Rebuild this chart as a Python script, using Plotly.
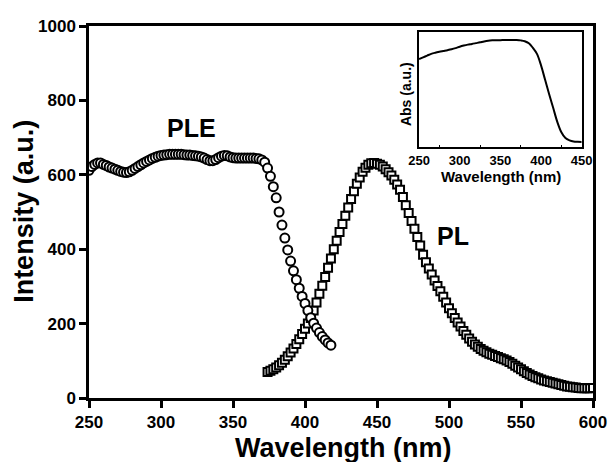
import plotly.graph_objects as go

# PLE (circles), 250-418 nm step 2
ple_x = list(range(250, 420, 2))
ple_y = [612, 622, 628, 632, 632, 628, 625, 621, 618, 615,
         612, 609, 607, 606, 608, 612, 617, 622, 627, 632,
         636, 640, 644, 647, 650, 652, 653, 654, 655, 655,
         655, 655, 655, 654, 653, 653, 652, 651, 650, 648,
         645, 641, 638, 638, 641, 646, 650, 652, 651, 648,
         646, 645, 645, 645, 645, 645, 645, 645, 644, 643,
         640, 634, 618, 596, 568, 538, 500, 465, 430, 398,
         368, 342, 318, 295, 273, 254, 235, 216, 201, 188,
         176, 165, 156, 148, 142]

# PL (squares), 374-600 nm step 2
pl_x = list(range(374, 602, 2))
pl_y = [70, 73, 77, 82, 88, 95, 103, 112, 122, 133,
        145, 158, 172, 186, 200, 215, 235, 257, 280, 302,
        325, 350, 375, 400, 423, 446, 468, 490, 512, 535,
        556, 576, 593, 608, 619, 627, 631, 632, 630, 627,
        622, 615, 607, 598, 587, 574, 560, 540, 518, 497,
        476, 455, 433, 410, 385, 365, 348, 332, 316, 301,
        287, 272, 257, 241, 228, 215, 203, 192, 180, 170,
        160, 151, 144, 138, 132, 127, 123, 119, 116, 113,
        110, 107, 104, 101, 97, 92, 87, 82, 77, 72,
        67, 63, 59, 56, 53, 50, 47, 45, 43, 41,
        39, 37, 35, 33, 31, 30, 29, 28, 27, 26,
        26, 26, 26, 27]

# Inset absorption, 250-450 nm step 5
abs_x = list(range(250, 455, 5))
abs_y = [0.765, 0.78, 0.795, 0.81, 0.82, 0.828, 0.835, 0.842, 0.85, 0.86,
         0.872, 0.882, 0.89, 0.896, 0.903, 0.91, 0.918, 0.924, 0.927, 0.928,
         0.929, 0.93, 0.931, 0.931, 0.93, 0.927, 0.92, 0.902, 0.862, 0.81,
         0.71, 0.585, 0.46, 0.34, 0.22, 0.13, 0.08, 0.06, 0.05, 0.047,
         0.046]

main_xticks = [250, 300, 350, 400, 450, 500, 550, 600]
main_yticks = [0, 200, 400, 600, 800, 1000]
inset_xticks = [250, 300, 350, 400, 450]

FONT = "Liberation Sans, Arial, sans-serif"

fig = go.Figure()
fig.add_trace(go.Scatter(
    x=pl_x, y=pl_y, mode="markers",
    marker=dict(symbol="square", size=8, color="white",
                line=dict(color="black", width=2)),
    showlegend=False))
fig.add_trace(go.Scatter(
    x=ple_x, y=ple_y, mode="markers",
    marker=dict(symbol="circle", size=9, color="white",
                line=dict(color="black", width=2)),
    showlegend=False))
fig.add_trace(go.Scatter(
    x=abs_x, y=abs_y, mode="lines", xaxis="x2", yaxis="y2",
    line=dict(color="black", width=2, shape="spline"),
    showlegend=False))

def txt(s, x, y, size, xref="paper", yref="paper", angle=0):
    fig.add_annotation(x=x, y=y, xref=xref, yref=yref, text=f"<b>{s}</b>",
                       showarrow=False, textangle=angle,
                       xanchor="center", yanchor="middle",
                       font=dict(family=FONT, size=size, color="black"))

txt("PLE", 321, 725, 25, "x", "y")
txt("PL", 503, 436, 25, "x", "y")
txt("Wavelength (nm)", 0.504, -0.134, 27)
txt("Intensity (a.u.)", -0.129, 0.503, 27, angle=-90)
txt("Wavelength (nm)", 0.817, 0.595, 15)
txt("Abs (a.u.)", 0.629, 0.817, 14, angle=-90)

fig.update_layout(
    width=610, height=462,
    margin=dict(l=89, r=17, t=26, b=64),
    paper_bgcolor="white", plot_bgcolor="white",
    font=dict(family=FONT, color="black"),
    xaxis=dict(range=[250, 600], tickvals=main_xticks, automargin=False,
               ticktext=[f"<b>{v}</b>" for v in main_xticks],
               showgrid=False, zeroline=False,
               showline=True, linecolor="black", linewidth=2.5, mirror=True,
               ticks="outside", ticklen=7, tickwidth=2.5, tickcolor="black",
               tickfont=dict(size=17, family=FONT)),
    yaxis=dict(range=[0, 1000], tickvals=main_yticks, automargin=False,
               ticktext=[f"<b>{v}</b>" for v in main_yticks],
               showgrid=False, zeroline=False,
               showline=True, linecolor="black", linewidth=2.5, mirror=True,
               ticks="outside", ticklen=7, tickwidth=2.5, tickcolor="black",
               tickfont=dict(size=17, family=FONT)),
    xaxis2=dict(domain=[0.6548, 0.9776], anchor="y2", range=[250, 450],
                tickvals=inset_xticks, automargin=False,
                ticktext=[f"<b>{v}</b>" for v in inset_xticks],
                showgrid=False, zeroline=False,
                showline=True, linecolor="black", linewidth=1.5, mirror=True,
                ticks="", tickfont=dict(size=13, family=FONT),
                minor=dict(ticks="inside", tick0=275, dtick=50, ticklen=3,
                           tickwidth=1, tickcolor="black")),
    yaxis2=dict(domain=[0.674, 0.984], anchor="x2", range=[0, 1],
                automargin=False,
                showticklabels=False, ticks="",
                showgrid=False, zeroline=False,
                showline=True, linecolor="black", linewidth=1.5, mirror=True),
)

fig.write_html("out.html")
